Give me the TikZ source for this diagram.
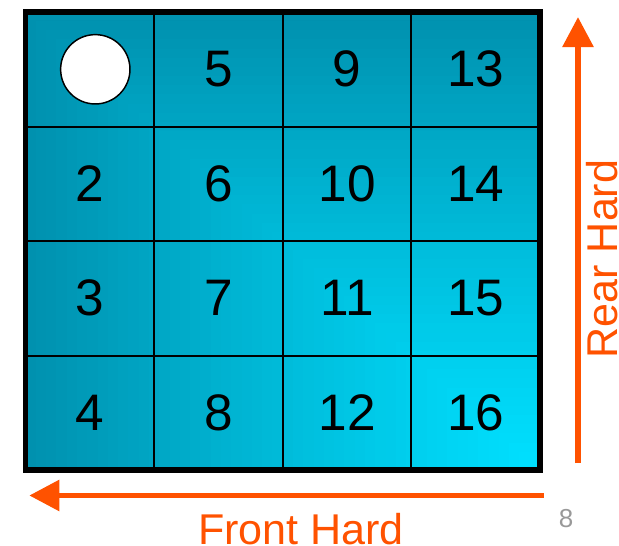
\documentclass[tikz,border=0pt]{standalone}
\usepackage{fontspec}
\setmainfont{Liberation Sans}
\usetikzlibrary{arrows.meta}
\definecolor{slotlo}{HTML}{0091AF}
\definecolor{slothi}{HTML}{00E0FF}
\definecolor{hardorange}{HTML}{FF5200}
\definecolor{pagegray}{HTML}{999999}

\begin{document}
\begin{tikzpicture}[
  x=0.75pt,
  y=-0.75pt,
  every node/.style={inner sep=0pt, outer sep=0pt},
  gridline/.style={black, line width=1.5pt},
  frame/.style={black, line width=4.3pt},
  slotnum/.style={font=\fontsize{38.5}{40}\selectfont, black},
  emptyslot/.style={draw=black, fill=white, circle, line width=1.1pt,
                    minimum size=52pt},
  hardarrow/.style={hardorange, line width=4.3pt,
                    -{Triangle[length=22.5pt, width=22.5pt]}},
  hardlabel/.style={font=\fontsize{32.3}{34}\selectfont, hardorange},
  pagelabel/.style={font=\fontsize{19.5}{20}\selectfont, pagegray}
]
  \useasboundingbox (0,0) rectangle (619,546);

  %% ---- board corners ---------------------------------------------------
  \coordinate (nw) at (25.5,12);
  \coordinate (se) at (540,470);

  %% ---- gradient from the lower right corner (nested boxes) -------------
  % box i covers max(u,v) <= i/50, u,v measured from (540,470)
  \foreach \i [evaluate=\i as \mixp using int(100-100*(\i/50)^1.15)]
      in {50,49,...,1}
    \fill[slothi!\mixp!slotlo]
      ({540-\i/50*514.5},{470-\i/50*458}) rectangle (se);

  %% ---- cell lines and frame --------------------------------------------
  \foreach \k in {1,2,3} {
    \draw[gridline] ({25.5+\k*128.625},12) -- ({25.5+\k*128.625},470);
    \draw[gridline] (25.5,{12+\k*114.5}) -- (540,{12+\k*114.5});
  }
  \draw[frame] (nw) rectangle (se);

  %% ---- numbers, column by column ---------------------------------------
  \foreach \c in {0,...,3} {
    \foreach \r in {0,...,3} {
      \pgfmathtruncatemacro{\n}{4*\c+\r+1}
      \ifnum\n>1
        \node[slotnum] (slot\n)
          at ({25.5+(\c+0.5)*128.625},{12+(\r+0.5)*114.5}) {\n};
      \fi
    }
  }
  \node[emptyslot] (slot1) at (95.3,69.3) {};

  %% ---- hardness arrows ---------------------------------------------------
  \coordinate (rearfoot) at (578,463);
  \coordinate (reartip)  at (578,17);
  \coordinate (frontfoot) at (543.5,495.5);
  \coordinate (fronttip)  at (29.3,495.5);
  \draw[hardarrow] (rearfoot) -- (reartip);
  \draw[hardarrow] (frontfoot) -- (fronttip);

  \node[hardlabel, rotate=90, anchor=base] (rearlabel) at (617,259) {Rear Hard};
  \node[hardlabel, anchor=base] (frontlabel) at (301,544) {Front Hard};

  %% ---- page number -------------------------------------------------------
  \node[pagelabel, anchor=base] (pagenum) at (566,527) {8};

\end{tikzpicture}
\end{document}
